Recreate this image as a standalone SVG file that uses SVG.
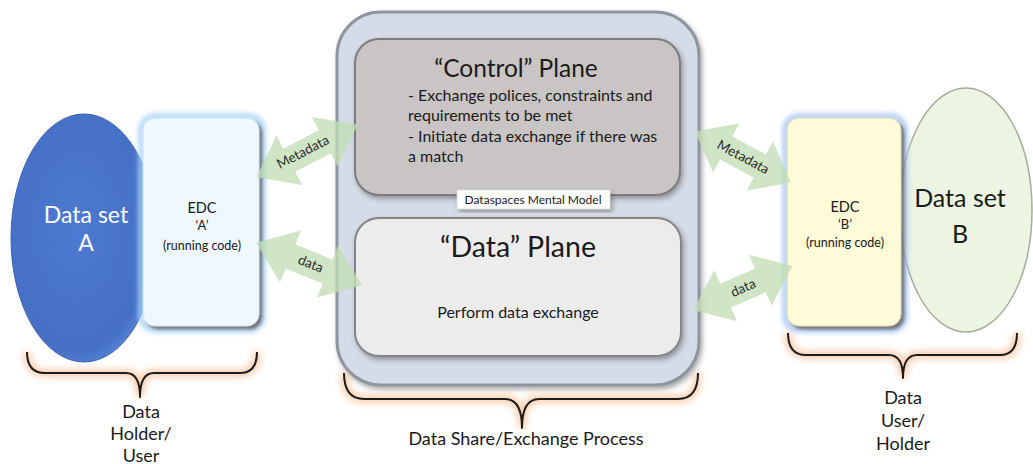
<svg xmlns="http://www.w3.org/2000/svg" width="1033" height="464" viewBox="0 0 1033 464">
  <defs>
    <style>
      .t { font-family: Lato, "Open Sans", "Liberation Sans", sans-serif; fill: #1a1a1a; }
      .c { text-anchor: middle; }
      .w { fill: #ffffff; }
      .arrow { fill: #c3deb5; opacity: 0.78; }
      .lbl { font-family: Lato, "Open Sans", "Liberation Sans", sans-serif; font-size: 13.5px; fill: #2a2a2a; text-anchor: middle; }
      .brace { fill: none; stroke: #1c1c1c; stroke-width: 2; stroke-linejoin: round; }
      .glow { fill: none; stroke: #f7b07a; stroke-width: 9; opacity: 0.55; filter: url(#blur3); }
    </style>
    <filter id="shadow" x="-10%" y="-10%" width="130%" height="130%">
      <feDropShadow dx="3" dy="3" stdDeviation="1.5" flood-color="#5a5a5a" flood-opacity="0.8"/>
    </filter>
    <filter id="softShadow" x="-10%" y="-10%" width="130%" height="130%">
      <feDropShadow dx="2" dy="3" stdDeviation="2.5" flood-color="#404040" flood-opacity="0.45"/>
    </filter>
    <filter id="blur3" x="-10%" y="-30%" width="120%" height="160%">
      <feGaussianBlur stdDeviation="3"/>
    </filter>
    <filter id="blueGlow" x="-20%" y="-20%" width="140%" height="140%">
      <feGaussianBlur stdDeviation="2.5"/>
    </filter>
    <radialGradient id="gradA" cx="0.45" cy="0.45" r="0.6">
      <stop offset="0" stop-color="#4d79d0"/>
      <stop offset="0.85" stop-color="#4670c6"/>
      <stop offset="1" stop-color="#5a8ad8"/>
    </radialGradient>
    <!-- double-headed block arrow, centred on the origin, pointing along x -->
    <path id="dbl" d="M-57,0 L-20,-28 L-20,-13 L20,-13 L20,-28 L57,0 L20,28 L20,13 L-20,13 L-20,28 Z"/>
  </defs>

  <rect width="1033" height="464" fill="#ffffff"/>

  <!-- left party: data set A and its connector -->
  <g id="dataset-a">
    <ellipse cx="84" cy="238" rx="73" ry="124" fill="url(#gradA)" stroke="#3a62b0" stroke-width="1"/>
    <text class="t c w" x="86" y="223" font-size="23">Data set</text>
    <text class="t c w" x="86" y="251" font-size="23">A</text>
  </g>
  <g id="edc-a">
    <rect x="141" y="116" width="122" height="214" rx="14" fill="none" stroke="#a9d3fa" stroke-width="5" filter="url(#blueGlow)"/>
    <rect x="143" y="118" width="116" height="208" rx="12" fill="#eef8fe" stroke="#c7e2f7" stroke-width="1" filter="url(#shadow)"/>
    <text class="t c" x="202" y="213" font-size="14.5">EDC</text>
    <text class="t c" x="202" y="230" font-size="13">‘A’</text>
    <text class="t c" x="202" y="250" font-size="12.5">(running code)</text>
  </g>

  <!-- central exchange process -->
  <g id="exchange">
    <rect x="337" y="12" width="362" height="373" rx="44" fill="#d5dbe7" stroke="#8f959e" stroke-width="3" filter="url(#softShadow)"/>
  </g>
  <g id="control-plane">
    <rect x="355" y="39" width="325" height="156" rx="24" fill="#c9c5c5" stroke="#7d7b7b" stroke-width="2" filter="url(#softShadow)"/>
    <text class="t c" x="516" y="77" font-size="24.5">“Control” Plane</text>
    <text class="t" x="408" y="101" font-size="16">- Exchange polices, constraints and</text>
    <text class="t" x="408" y="121" font-size="16">requirements to be met</text>
    <text class="t" x="408" y="142" font-size="16">- Initiate data exchange if there was</text>
    <text class="t" x="408" y="162" font-size="16">a match</text>
  </g>
  <g id="data-plane">
    <rect x="355" y="218" width="326" height="138" rx="24" fill="#ececec" stroke="#858585" stroke-width="2" filter="url(#softShadow)"/>
    <text class="t c" x="518" y="257" font-size="28.5">“Data” Plane</text>
    <text class="t c" x="518" y="318" font-size="16">Perform data exchange</text>
  </g>
  <g id="model-label">
    <rect x="457" y="190" width="153" height="19" fill="#ffffff" stroke="#d8d8d8" stroke-width="0.8" filter="url(#softShadow)"/>
    <text class="t c" x="533" y="204" font-size="12">Dataspaces Mental Model</text>
  </g>

  <!-- right party: connector and data set B -->
  <g id="dataset-b">
    <ellipse cx="966" cy="210" rx="66" ry="122" fill="#ebf5e1" stroke="#a3ad98" stroke-width="1.5"/>
    <text class="t c" x="960" y="207" font-size="25">Data set</text>
    <text class="t c" x="960" y="243" font-size="25">B</text>
  </g>
  <g id="edc-b">
    <rect x="785" y="116" width="120" height="214" rx="14" fill="none" stroke="#a7c6f2" stroke-width="5" filter="url(#blueGlow)"/>
    <rect x="787" y="118" width="114" height="208" rx="12" fill="#fdfbd8" stroke="#d6d4b8" stroke-width="1" filter="url(#shadow)"/>
    <text class="t c" x="845" y="212" font-size="14.5">EDC</text>
    <text class="t c" x="845" y="229" font-size="13">‘B’</text>
    <text class="t c" x="845" y="247" font-size="12.5">(running code)</text>
  </g>

  <!-- exchange flows -->
  <g id="connectors">
    <use href="#dbl" class="arrow" transform="translate(307,151) rotate(-27.5)"/>
    <use href="#dbl" class="arrow" transform="translate(309,264) rotate(22)"/>
    <use href="#dbl" class="arrow" transform="translate(743,157) rotate(28) scale(0.95,1)"/>
    <use href="#dbl" class="arrow" transform="translate(743,288) rotate(-24) scale(0.95,1)"/>
    <text class="lbl" transform="translate(305,156) rotate(-27.5)">Metadata</text>
    <text class="lbl" transform="translate(309,268) rotate(22)">data</text>
    <text class="lbl" transform="translate(741,161) rotate(28)">Metadata</text>
    <text class="lbl" transform="translate(745,292) rotate(-24)">data</text>
  </g>

  <!-- grouping braces -->
  <g id="brace-left">
    <path class="glow" d="M27,352 Q27,373 45,373 L126,373 Q140,373 140,397 Q140,373 154,373 L240,373 Q257,373 257,352"/>
    <path class="brace" d="M27,352 Q27,373 45,373 L126,373 Q140,373 140,397 Q140,373 154,373 L240,373 Q257,373 257,352"/>
    <text class="t c" x="141" y="418" font-size="18">Data</text>
    <text class="t c" x="141" y="440" font-size="18">Holder/</text>
    <text class="t c" x="141" y="462" font-size="18">User</text>
  </g>
  <g id="brace-center">
    <path class="glow" d="M344,373 Q344,399 364,399 L505,399 Q522,399 522,428 Q522,399 539,399 L678,399 Q698,399 698,373"/>
    <path class="brace" d="M344,373 Q344,399 364,399 L505,399 Q522,399 522,428 Q522,399 539,399 L678,399 Q698,399 698,373"/>
    <text class="t c" x="526" y="445" font-size="18">Data Share/Exchange Process</text>
  </g>
  <g id="brace-right">
    <path class="glow" d="M788,333 Q788,355 806,355 L889,355 Q903,355 903,378 Q903,355 917,355 L1000,355 Q1017,355 1017,333"/>
    <path class="brace" d="M788,333 Q788,355 806,355 L889,355 Q903,355 903,378 Q903,355 917,355 L1000,355 Q1017,355 1017,333"/>
    <text class="t c" x="903" y="404" font-size="18">Data</text>
    <text class="t c" x="903" y="427" font-size="18">User/</text>
    <text class="t c" x="903" y="450" font-size="18">Holder</text>
  </g>
</svg>
